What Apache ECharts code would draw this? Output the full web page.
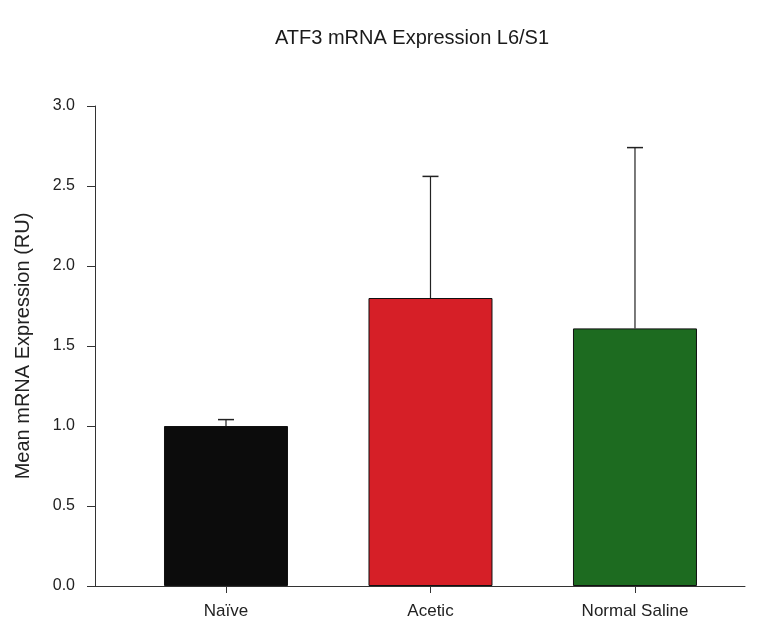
<!DOCTYPE html>
<html>
<head>
<meta charset="utf-8">
<script src="https://cdn.jsdelivr.net/npm/echarts@6/dist/echarts.min.js"></script>
<style>html,body{margin:0;padding:0;background:#fff;}#c{width:759px;height:626px;}</style>
</head>
<body>
<div id="c"></div>
<script>
var categories = ['Naïve', 'Acetic', 'Normal Saline'];
var means = [1.00, 1.80, 1.61];
var errors = [0.04, 0.76, 1.13];
var colors = ['#0c0c0c', '#d61f27', '#1d6b20'];
var yTicks = [0, 0.5, 1.0, 1.5, 2.0, 2.5, 3.0];

var pos = categories.map(function (c, i) { return i + 1; });
var FONT = 'Liberation Sans, Arial, sans-serif';

var chart = echarts.init(document.getElementById('c'));
chart.setOption({
  animation: false,
  backgroundColor: '#ffffff',
  title: {
    text: 'ATF3 mRNA Expression L6/S1',
    left: 407, top: 23, textAlign: 'center',
    textStyle: { fontFamily: FONT, fontSize: 20, fontWeight: 'normal', color: '#1a1a1a' }
  },
  grid: { left: 95, right: 14, top: 106, bottom: 40, containLabel: false },
  xAxis: {
    type: 'value', min: 0.3594, max: 3.538,
    splitLine: { show: false },
    axisLine: { show: true, lineStyle: { color: '#333', width: 1 } },
    axisTick: { show: true, customValues: pos, length: 7, lineStyle: { color: '#333' } },
    axisLabel: {
      customValues: pos, margin: 17,
      fontFamily: FONT, fontSize: 17, color: '#222',
      formatter: function (v) { return categories[Math.round(v) - 1] || ''; }
    }
  },
  yAxis: {
    type: 'value', min: 0, max: 3, interval: 0.5,
    name: 'Mean mRNA Expression (RU)', nameLocation: 'middle', nameGap: 62,
    nameTextStyle: { fontFamily: FONT, fontSize: 20, color: '#222' },
    splitLine: { show: false },
    axisLine: { show: true, lineStyle: { color: '#333', width: 1 } },
    axisTick: { show: true, length: 8, lineStyle: { color: '#333' } },
    axisLabel: {
      margin: 20, fontFamily: FONT, fontSize: 16, color: '#222',
      formatter: function (v) { return v.toFixed(1); }
    }
  },
  series: [
    {
      type: 'bar', barWidth: 124,
      data: means.map(function (m, i) {
        return { value: [pos[i], m], itemStyle: { color: colors[i], borderColor: '#111', borderWidth: 1 } };
      }),
      z: 2
    },
    {
      type: 'custom', z: 3,
      data: means.map(function (m, i) { return [pos[i], m, m + errors[i]]; }),
      renderItem: function (params, api) {
        var base = api.coord([api.value(0), api.value(1)]);
        var top = api.coord([api.value(0), api.value(2)]);
        var hw = 8;
        return {
          type: 'group',
          children: [
            { type: 'line', shape: { x1: base[0], y1: base[1], x2: top[0], y2: top[1] }, style: { stroke: '#222', lineWidth: 1.2 } },
            { type: 'line', shape: { x1: top[0] - hw, y1: top[1], x2: top[0] + hw, y2: top[1] }, style: { stroke: '#222', lineWidth: 1.5 } }
          ]
        };
      }
    }
  ]
});
</script>
</body>
</html>
